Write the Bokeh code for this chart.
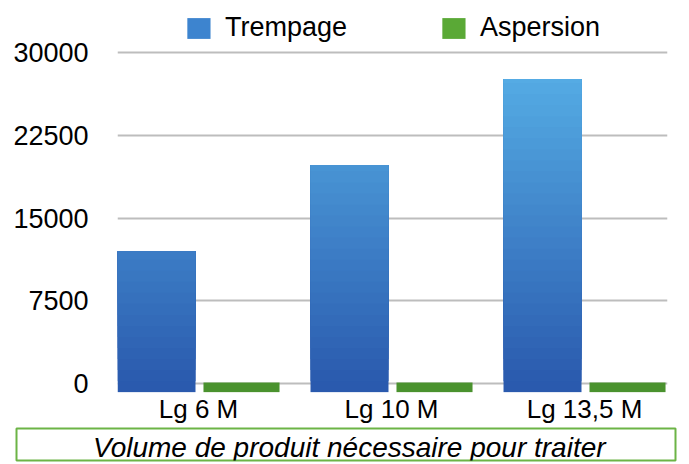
from bokeh.plotting import figure
from bokeh.models import (Range1d, FixedTicker, Legend, LegendItem, Spacer,
                          ColumnDataSource, Label)
from bokeh.layouts import column, row
from bokeh.embed import file_html
from bokeh.resources import INLINE

# ---- data ----
categories = ["Lg 6 M", "Lg 10 M", "Lg 13,5 M"]
trempage = [12000, 19800, 27600]
aspersion = [100, 100, 100]
y_ticks = [0, 7500, 15000, 22500, 30000]
series_names = ["Trempage", "Aspersion"]
caption = "Volume de produit nécessaire pour traiter"

FONT = "Liberation Sans"
BASE = -770          # visual depth of bars below the zero line
STEP = 1000          # gradient step (data units)

def lerp_color(c0, c1, t):
    t = max(0.0, min(1.0, t))
    return "#%02x%02x%02x" % tuple(int(round(a + (b - a) * t)) for a, b in zip(c0, c1))

BLUE_BOTTOM = (0x2a, 0x5a, 0xae)
BLUE_TOP = (0x58, 0xb2, 0xe8)

p = figure(frame_width=550, frame_height=382, output_backend="svg", toolbar_location=None,
           x_range=Range1d(-0.4197, 2.430), y_range=Range1d(-800, 33800),
           min_border_left=117, min_border_right=14, min_border_top=10,
           min_border_bottom=34, outline_line_color=None)

xs = list(range(len(categories)))

# Trempage bars: stacked overlapping layers to build a vertical gradient
seg_x, seg_bottom, seg_top, seg_color = [], [], [], []
for xi, v in zip(xs, trempage):
    y0 = BASE
    while y0 < v:
        seg_x.append(xi - 0.2176)
        seg_bottom.append(y0)
        seg_top.append(v)
        seg_color.append(lerp_color(BLUE_BOTTOM, BLUE_TOP, (y0 + STEP / 2) / 30000))
        y0 += STEP
src_t = ColumnDataSource(dict(x=seg_x, bottom=seg_bottom, top=seg_top, color=seg_color))
p.vbar(x="x", bottom="bottom", top="top", width=0.404, source=src_t,
       fill_color="color", line_color=None)

# Aspersion bars
src_a = ColumnDataSource(dict(x=[xi + 0.2228 for xi in xs], top=aspersion,
                              bottom=[BASE] * len(xs)))
p.vbar(x="x", bottom="bottom", top="top", width=0.394, source=src_a,
       fill_color="#4a922e", line_color=None)

# legend proxies (kept outside the visible range)
r_t = p.vbar(x=[-10], top=[0], width=0.4, fill_color="#3d84cf", line_color=None)
r_a = p.vbar(x=[-10], top=[0], width=0.4, fill_color="#5aa936", line_color=None)

legend = Legend(items=[LegendItem(label=series_names[0], renderers=[r_t]),
                       LegendItem(label=series_names[1], renderers=[r_a])],
                orientation="horizontal", location="top_center",
                glyph_width=29, glyph_height=26, label_standoff=12, spacing=92,
                padding=0, margin=2, border_line_color=None,
                background_fill_alpha=0,
                label_text_font=FONT, label_text_font_size="27px",
                label_text_color="#000000")
p.add_layout(legend)

# axes
p.yaxis.ticker = FixedTicker(ticks=y_ticks)
p.yaxis.axis_line_color = None
p.yaxis.major_tick_line_color = None
p.yaxis.minor_tick_line_color = None
p.yaxis.major_label_standoff = 23
p.yaxis.major_label_text_font = FONT
p.yaxis.major_label_text_font_size = "27px"
p.yaxis.major_label_text_color = "#000000"

p.xaxis.ticker = FixedTicker(ticks=xs)
p.xaxis.major_label_overrides = {i: c for i, c in zip(xs, categories)}
p.xaxis.axis_line_color = None
p.xaxis.major_tick_line_color = None
p.xaxis.minor_tick_line_color = None
p.xaxis.major_label_standoff = -5
p.xaxis.major_label_text_font = FONT
p.xaxis.major_label_text_font_size = "26px"
p.xaxis.major_label_text_color = "#000000"

p.xgrid.grid_line_color = None
p.ygrid.ticker = FixedTicker(ticks=y_ticks)
p.ygrid.grid_line_color = "#bdbdbd"
p.ygrid.grid_line_width = 2
p.ygrid.level = "underlay"

# caption box
cap = figure(width=663, height=36, output_backend="svg", toolbar_location=None,
             x_range=Range1d(0, 1), y_range=Range1d(0, 1),
             min_border=2, outline_line_color="#6cb446", outline_line_width=2)
cap.axis.visible = False
cap.grid.visible = False
cap.add_layout(Label(x=0.505, y=0.4, text=caption, text_align="center",
                     text_baseline="middle", text_font=FONT, text_font_size="28px",
                     text_font_style="italic", text_color="#000000"))

layout = column(p, row(Spacer(width=14), cap))
open("out.html", "w").write(file_html(layout, INLINE))
